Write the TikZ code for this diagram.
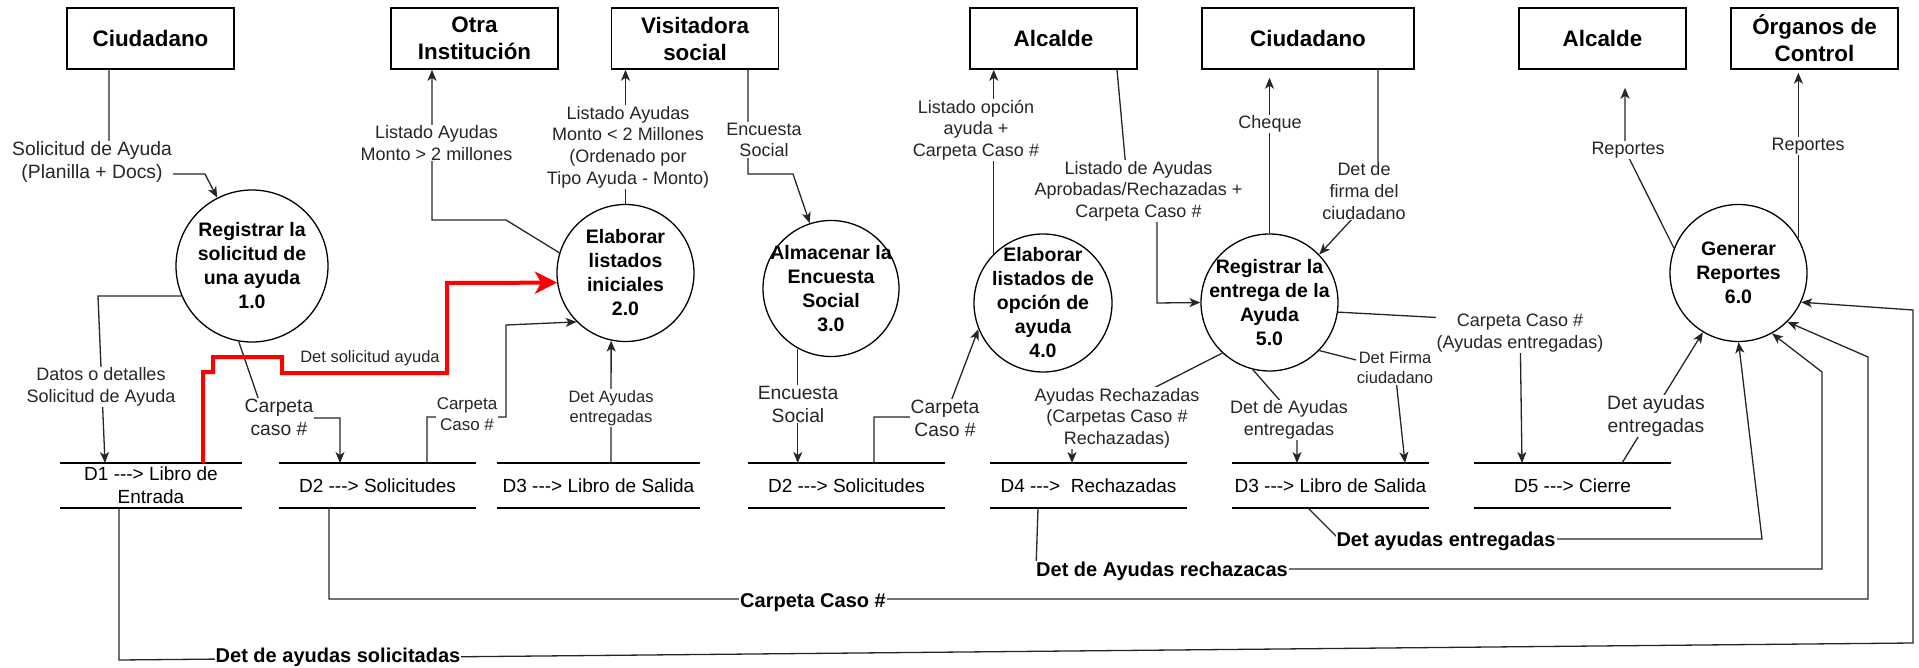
\documentclass[tikz,border=0pt]{standalone}
\usepackage{fontspec}
\setmainfont{Liberation Sans}[Ligatures=TeXOff]
\usetikzlibrary{arrows.meta,calc}
\tikzset{
  ent/.style={draw, line width=1.5pt, minimum width=167pt, minimum height=61pt, inner sep=0pt, align=center, font=\bfseries\fontsize{22.4}{27}\selectfont},
  proc/.style={draw, circle, line width=1.3pt, inner sep=0pt, minimum size=#1},
  ptb/.style={align=center, font=\bfseries\fontsize{19.5}{24}\selectfont},
  ptr/.style={align=center, font=\bfseries\fontsize{19.5}{24}\selectfont},
  store/.style={minimum width=#1, minimum height=45pt, inner sep=0pt, outer sep=0pt},
  stx/.style={align=center, font=\fontsize{19}{23}\selectfont},
  sline/.style={line width=1.5pt},
  flow/.style={draw=black!85, line width=1.3pt, -{Stealth[length=11pt,width=9pt,inset=3pt]}},
  redflow/.style={draw=red, line width=4pt, -{Stealth[length=22pt,width=22pt,inset=6pt]}},
  lbl/.style={fill=white, inner sep=1pt, align=center, text=black!85, font=\fontsize{18}{21.6}\selectfont},
  lbls/.style={lbl, font=\fontsize{16.5}{19.8}\selectfont},
  lbll/.style={lbl, font=\fontsize{19.3}{23}\selectfont},
  blbl/.style={fill=white, inner sep=1pt, text=black, font=\bfseries\fontsize{20}{24}\selectfont},
}
\begin{document}
\begin{tikzpicture}[x=1pt,y=-1pt]
\useasboundingbox (0,0) rectangle (1919,668);
% entities
\node[ent] (e1) at (150.5,38.5) {Ciudadano};
\node[ent] (e2) at (474.5,38.5) {Otra\\Institución};
\node[ent] (e3) at (695,38.5) {Visitadora\\social};
\node[ent] (e4) at (1053.5,38.5) {Alcalde};
\node[ent, minimum width=212pt] (e5) at (1308,38.5) {Ciudadano};
\node[ent] (e6) at (1602.5,38.5) {Alcalde};
\node[ent] (e7) at (1814.5,38.5) {Órganos de\\Control};
% processes
\node[proc=152pt, label={[ptb]center:{Registrar la\\solicitud de\\una ayuda\\1.0}}] (p1) at (252,266) {};
\node[proc=137pt, label={[ptb]center:{Elaborar\\listados\\iniciales\\2.0}}] (p2) at (625.5,273) {};
\node[proc=136pt, label={[ptb]center:{Almacenar la\\Encuesta\\Social\\3.0}}] (p3) at (831,288.5) {};
\node[proc=138pt, label={[ptr]center:{Elaborar\\listados de\\opción de\\ayuda\\4.0}}] (p4) at (1043,303) {};
\node[proc=137pt, label={[ptr]center:{Registrar la\\entrega de la\\Ayuda\\5.0}}] (p5) at (1269.5,302.5) {};
\node[proc=137pt, label={[ptr]center:{Generar\\Reportes\\6.0}}] (p6) at (1738.5,273) {};
% data stores
\node[store=182pt, label={[stx]center:{D1 ---> Libro de\\Entrada}}] (d1) at (151,485.5) {};
\node[store=197pt, label={[stx]center:{D2 ---> Solicitudes}}] (d2a) at (377.5,485.5) {};
\node[store=203pt, label={[stx]center:{D3 ---> Libro de Salida}}] (d3a) at (598.5,485.5) {};
\node[store=197pt, label={[stx]center:{D2 ---> Solicitudes}}] (d2b) at (846.5,485.5) {};
\node[store=197pt, label={[stx]center:{D4 --->~ Rechazadas}}] (d4) at (1088.5,485.5) {};
\node[store=197pt, label={[stx]center:{D3 ---> Libro de Salida}}] (d3b) at (1330.5,485.5) {};
\node[store=197pt, label={[stx]center:{D5 ---> Cierre}}] (d5) at (1572.5,485.5) {};
\foreach \s in {d1,d2a,d3a,d2b,d4,d3b,d5}
  \draw[sline] (\s.north west) -- (\s.north east) (\s.south west) -- (\s.south east);
% connectors
\draw[flow] (e1.south -| 109,0) -- (109,174) -- (205,174) -- (p1.117);
\draw[flow] (p1.203) -- (98,296) -- (105,0 |- d1.north);
\draw[flow] (p1.260) -- (265,418) -- (340,418) -- (340,0 |- d2a.north);
\draw[flow] (427,0 |- d2a.north) -- (427,417) -- (506,417) -- (506,325) -- (p2.225);
\draw[flow] (611,0 |- d3a.north) -- (p2.258);
\draw[flow] (p2.163) -- (506,220) -- (432,220) -- (432,0 |- e2.south);
\draw[flow] (p2.north) -- (p2.north |- e3.south);
\draw[flow] (e3.south -| 748,0) -- (748,174) -- (793,174) -- (p3.108);
\draw[flow] (p3.241) -- (p3.241 |- d2b.north);
\draw[flow] (874,0 |- d2b.north) -- (874,417) -- (945,417) -- (p4.202);
\draw[flow] (p4.135) -- (p4.135 |- e4.south);
\draw[flow] (e4.south -| 1117,0) -- (1128,191) -- (1157,191) -- (1157,303) -- (p5.west);
\draw[flow, shorten >=8pt] (p5.north) -- (p5.north |- e5.south);
\draw[flow] (e5.south -| 1378,0) -- (1378,191) -- (p5.44);
\draw[flow] (p5.227) -- (1140,395) -- (1072,395) -- (1072,0 |- d4.north);
\draw[flow] (p5.256) -- (1297,420) -- (1297,0 |- d3b.north);
\draw[flow] (p5.316) -- (1395,370) -- (1405,0 |- d3b.north);
\draw[flow] (p5.352) -- (1520,322) -- (1522,0 |- d5.north);
\draw[flow] (1622,0 |- d5.north) -- (p6.239);
\draw[flow, shorten >=18pt] (p6.159) -- (1625,150) -- (1625,0 |- e6.south);
\draw[flow, shorten >=3pt] (p6.30) -- (p6.30 |- e7.south);
\draw[flow] (d3b.south -| 1308,0) -- (1339,539) -- (1762,539) -- (p6.south);
\draw[flow] (d4.south -| 1038,0) -- (1036,569) -- (1822,569) -- (1822,372) -- (p6.299);
\draw[flow] (d2a.south -| 329,0) -- (329,599) -- (1868,599) -- (1868,357) -- (p6.315);
\draw[flow] (d1.south -| 119,0) -- (119,660) -- (1913,643) -- (1913,310) -- (p6.335);
\draw[redflow] (203,0 |- d1.north) -- (203,372) -- (213,372) -- (213,357) -- (282,357) -- (282,373) -- (447,373) -- (447,283) -- (p2.188);
% labels
\node[lbll] (l1) at (92,162) {Solicitud de Ayuda\\(Planilla + Docs)};
\node[lbl] (l2) at (101,387) {Datos o detalles\\Solicitud de Ayuda};
\node[lbls, fill=none] (l3) at (370,358) {Det solicitud ayuda};
\node[lbll] (l4) at (279,417) {Carpeta\\caso \#};
\node[lbl, font=\fontsize{17}{21}\selectfont] (l5) at (467,414) {Carpeta\\Caso \#};
\node[lbls] (l6) at (611,408) {Det Ayudas\\entregadas};
\node[lbl] (l7) at (436.5,143) {Listado Ayudas\\Monto > 2 millones};
\node[lbl] (l8) at (628,147) {Listado Ayudas\\Monto < 2 Millones\\(Ordenado por\\Tipo Ayuda - Monto)};
\node[lbl] (l9) at (764,140) {Encuesta\\Social};
\node[lbll] (l10) at (798,404) {Encuesta\\Social};
\node[lbll] (l11) at (945,418) {Carpeta\\Caso \#};
\node[lbl] (l12) at (976,130) {Listado opción\\ayuda +\\Carpeta Caso \#};
\node[lbl] (l13) at (1138.5,191) {Listado de Ayudas\\Aprobadas/Rechazadas +\\Carpeta Caso \#};
\node[lbl] (l14) at (1270,124) {Cheque};
\node[lbl] (l15) at (1364,191) {Det de\\firma del\\ciudadano};
\node[lbl] (l16) at (1117,418) {Ayudas Rechazadas\\(Carpetas Caso \#\\Rechazadas)};
\node[lbl] (l17) at (1289,420) {Det de Ayudas\\entregadas};
\node[lbls] (l18) at (1395,368) {Det Firma\\ciudadano};
\node[lbl] (l19) at (1520,333) {Carpeta Caso \#\\(Ayudas entregadas)};
\node[lbll] (l20) at (1656,416) {Det ayudas\\entregadas};
\node[lbl] (l21) at (1628,150) {Reportes};
\node[lbl] (l22) at (1808,146) {Reportes};
\node[blbl] (l23) at (1446,541) {Det ayudas entregadas};
\node[blbl] (l24) at (1162,571) {Det de Ayudas rechazacas};
\node[blbl] (l25) at (813,603) {Carpeta Caso \#};
\node[blbl] (l26) at (338,657) {Det de ayudas solicitadas};
\end{tikzpicture}
\end{document}
